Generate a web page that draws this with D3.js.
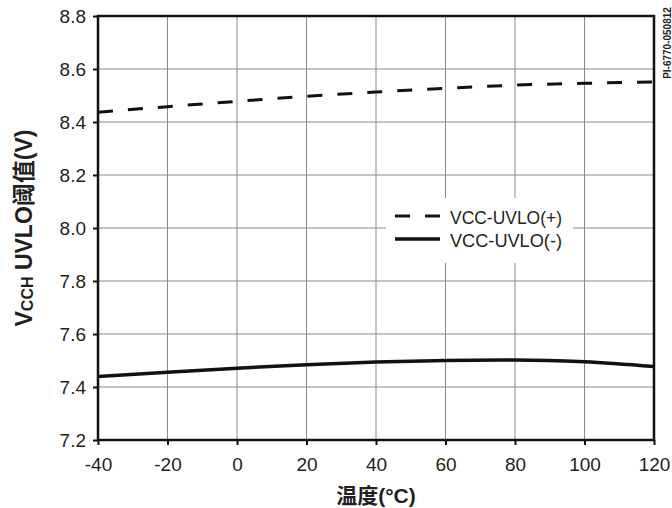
<!DOCTYPE html>
<html><head><meta charset="utf-8">
<script src="https://cdn.jsdelivr.net/npm/d3@7"></script>
<style>body{margin:0;background:#fff}svg{display:block}</style>
</head><body>
<svg id="c" width="672" height="508"></svg>
<script>
const temps = [-40, -20, 0, 20, 40, 60, 80, 100, 120];
const uvloPlus = [8.437, 8.458, 8.478, 8.497, 8.513, 8.527, 8.539, 8.546, 8.551];
const uvloMinus = [7.44, 7.456, 7.471, 7.484, 7.494, 7.5, 7.502, 7.495, 7.477];
const xTicks = [-40, -20, 0, 20, 40, 60, 80, 100, 120];
const yTicks = [7.2, 7.4, 7.6, 7.8, 8.0, 8.2, 8.4, 8.6, 8.8];
const seriesNames = ["VCC-UVLO(+)", "VCC-UVLO(-)"];

const L = 98, R = 654, T = 16, B = 440;
const svg = d3.select("#c");
const x = d3.scaleLinear().domain([-40, 120]).range([L, R]);
const y = d3.scaleLinear().domain([7.2, 8.8]).range([B, T]);
const font = "'Liberation Sans', Arial, Helvetica, sans-serif";
const cjk = "'Liberation Sans', 'Noto Sans CJK SC', sans-serif";

// grid
svg.append("g").selectAll("line").data(xTicks.slice(1, -1)).join("line")
  .attr("x1", d => x(d)).attr("x2", d => x(d)).attr("y1", T).attr("y2", B)
  .attr("stroke", "#8a8a8a").attr("stroke-width", 1);
svg.append("g").selectAll("line").data(yTicks.slice(1, -1)).join("line")
  .attr("y1", d => y(d)).attr("y2", d => y(d)).attr("x1", L).attr("x2", R)
  .attr("stroke", "#8a8a8a").attr("stroke-width", 1);

// axes
const xa = svg.append("g").attr("transform", `translate(0,${B})`)
  .call(d3.axisBottom(x).tickValues(xTicks).tickSize(5).tickPadding(13).tickFormat(d => String(d)));
const ya = svg.append("g").attr("transform", `translate(${L},0)`)
  .call(d3.axisLeft(y).tickValues(yTicks).tickSize(5).tickPadding(7).tickFormat(d3.format(".1f")));
[xa, ya].forEach(a => {
  a.select(".domain").remove();
  a.selectAll(".tick line").attr("stroke", "#111").attr("stroke-width", 2);
  a.selectAll(".tick text").attr("font-family", font).attr("font-size", 19).attr("fill", "#231f20");
});

// frame
svg.append("rect").attr("x", L).attr("y", T).attr("width", R - L).attr("height", B - T)
  .attr("fill", "none").attr("stroke", "#111").attr("stroke-width", 2.5);

// lines
const line = d3.line().x((d, i) => x(temps[i])).y(d => y(d)).curve(d3.curveMonotoneX);
svg.append("path").datum(uvloPlus).attr("d", line).attr("fill", "none")
  .attr("stroke", "#111").attr("stroke-width", 3).attr("stroke-dasharray", "15,15");
svg.append("path").datum(uvloMinus).attr("d", line).attr("fill", "none")
  .attr("stroke", "#111").attr("stroke-width", 3.5);

// legend
svg.append("rect").attr("x", 386).attr("y", 198).attr("width", 187).attr("height", 65).attr("fill", "#fff");
const lg = [{y: 216, dash: "15,15", w: 3}, {y: 239, dash: null, w: 3.5}];
lg.forEach((d, i) => {
  svg.append("line").attr("x1", 395).attr("x2", 440).attr("y1", d.y).attr("y2", d.y)
    .attr("stroke", "#111").attr("stroke-width", d.w).attr("stroke-dasharray", d.dash);
  svg.append("text").attr("x", 450).attr("y", d.y + 8).text(seriesNames[i])
    .attr("font-family", font).attr("font-size", 17.5).attr("fill", "#231f20")
    .attr("textLength", 112).attr("lengthAdjust", "spacingAndGlyphs");
});

// axis titles
svg.append("text").attr("x", 376).attr("y", 503).attr("text-anchor", "middle")
  .attr("font-family", cjk).attr("font-weight", "bold").attr("font-size", 21).attr("fill", "#231f20")
  .text("温度(°C)");
const yt = svg.append("text").attr("transform", "translate(32,228) rotate(-90)").attr("text-anchor", "middle")
  .attr("font-family", cjk).attr("font-weight", "bold").attr("font-size", 23).attr("fill", "#231f20");
yt.append("tspan").text("V");
yt.append("tspan").attr("font-size", 16).attr("dy", 1).text("CCH");
yt.append("tspan").attr("dy", -1).text(" UVLO阈值(V)");

svg.append("text").attr("transform", "translate(671,43) rotate(-90)").attr("text-anchor", "middle")
  .attr("font-family", font).attr("font-weight", "bold").attr("font-size", 10).attr("fill", "#231f20")
  .text("PI-6770-050812");
</script>
</body></html>
